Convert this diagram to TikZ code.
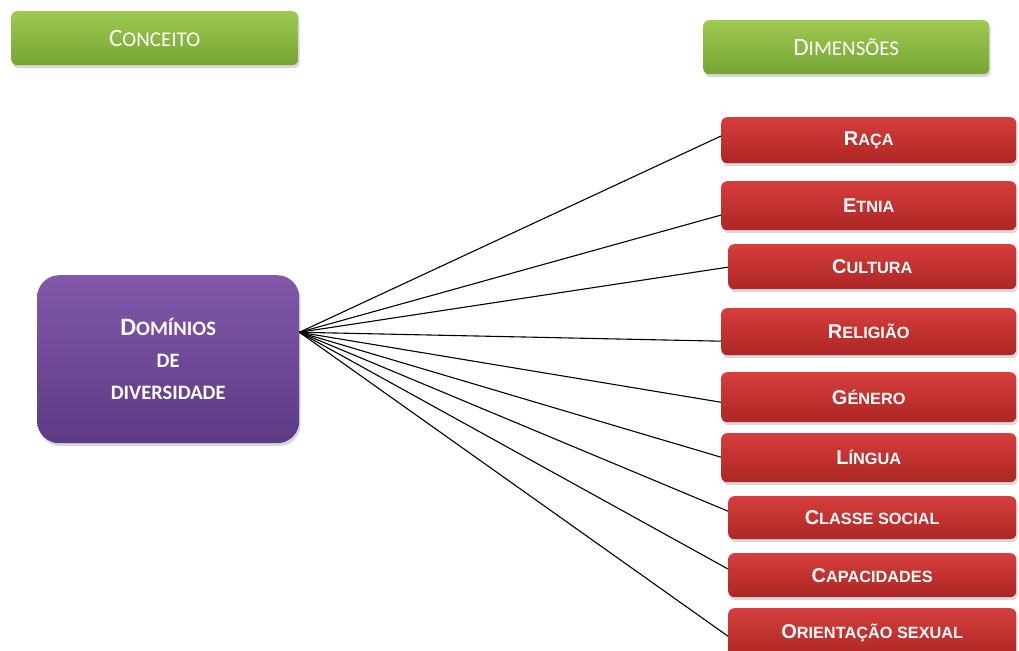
\documentclass[tikz,border=0pt]{standalone}
\usepackage{fontspec}
\setmainfont{Carlito}
\newfontfamily\arialf{Liberation Sans}
\usetikzlibrary{shadows,calc}
\definecolor{gtop}{RGB}{158,202,80}
\definecolor{gbot}{RGB}{118,164,52}
\definecolor{rtop}{RGB}{214,62,60}
\definecolor{rbot}{RGB}{172,38,36}
\definecolor{ptop}{RGB}{130,88,170}
\definecolor{pbot}{RGB}{92,58,132}
\newcommand\gsc[2]{{\fontsize{25}{25}\selectfont #1}{\fontsize{21}{21}\selectfont #2}}
\newcommand\rsc[2]{{\arialf\bfseries\fontsize{20}{20}\selectfont #1\fontsize{16.3}{16.3}\selectfont #2}}
\tikzset{
  boxbase/.style={anchor=north west, inner sep=0pt, text=white,
    drop shadow={opacity=0.3, shadow xshift=1.5pt, shadow yshift=-3pt}},
  greenbox/.style={boxbase, rounded corners=6pt, top color=gtop, bottom color=gbot, draw=none},
  redbox/.style={boxbase, rounded corners=6pt, top color=rtop, bottom color=rbot, draw=none},
  purplebox/.style={boxbase, rounded corners=22pt, top color=ptop, bottom color=pbot, draw=none,
    align=center, font=\bfseries\fontsize{20.5}{32}\selectfont},
  link/.style={draw=black, line width=1.1pt},
}
\begin{document}
\begin{tikzpicture}[x=1pt,y=-1pt]
\useasboundingbox (0,0) rectangle (1019,650);
\clip (0,0) rectangle (1019,650);
\fill[white] (0,0) rectangle (1019,650);
% header and concept boxes
\node[greenbox, minimum width=287pt, minimum height=54pt] (conceito) at (11,11) {\gsc{C}{ONCEITO}};
\node[greenbox, minimum width=286pt, minimum height=54pt] (dimensoes) at (703,20) {\gsc{D}{IMENSÕES}};
\node[purplebox, minimum width=262pt, minimum height=168pt] (dom) at (37,275)
  {{\fontsize{25}{32}\selectfont D}OMÍNIOS\\DE\\DIVERSIDADE};
\coordinate (hub) at ($(dom.north east)!0.34!(dom.south east)$);
% dimension boxes
\node[redbox, minimum width=295pt, minimum height=46pt] (raca) at (721,117) {\rsc{R}{AÇA}};
\node[redbox, minimum width=295pt, minimum height=49pt] (etnia) at (721,181) {\rsc{E}{TNIA}};
\node[redbox, minimum width=288pt, minimum height=45pt] (cultura) at (728,244) {\rsc{C}{ULTURA}};
\node[redbox, minimum width=295pt, minimum height=47pt] (religiao) at (721,308) {\rsc{R}{ELIGIÃO}};
\node[redbox, minimum width=295pt, minimum height=50pt] (genero) at (721,372) {\rsc{G}{ÉNERO}};
\node[redbox, minimum width=295pt, minimum height=49pt] (lingua) at (721,433) {\rsc{L}{ÍNGUA}};
\node[redbox, minimum width=288pt, minimum height=43pt] (classe) at (728,496) {\rsc{C}{LASSE SOCIAL}};
\node[redbox, minimum width=288pt, minimum height=44pt] (capac) at (728,553) {\rsc{C}{APACIDADES}};
\node[redbox, minimum width=288pt, minimum height=50pt] (orient) at (728,608) {\raisebox{-4pt}{\rsc{O}{RIENTAÇÃO SEXUAL}}};
% links
\draw[link] (hub) -- ($(raca.north west)!0.41!(raca.south west)$);
\draw[link] (hub) -- ($(etnia.north west)!0.69!(etnia.south west)$);
\draw[link] (hub) -- ($(cultura.north west)!0.51!(cultura.south west)$);
\draw[link] (hub) -- ($(religiao.north west)!0.70!(religiao.south west)$);
\draw[link] (hub) -- ($(genero.north west)!0.60!(genero.south west)$);
\draw[link] (hub) -- ($(lingua.north west)!0.49!(lingua.south west)$);
\draw[link] (hub) -- ($(classe.north west)!0.35!(classe.south west)$);
\draw[link] (hub) -- ($(capac.north west)!0.36!(capac.south west)$);
\draw[link] (hub) -- ($(orient.north west)!0.56!(orient.south west)$);
\end{tikzpicture}
\end{document}
